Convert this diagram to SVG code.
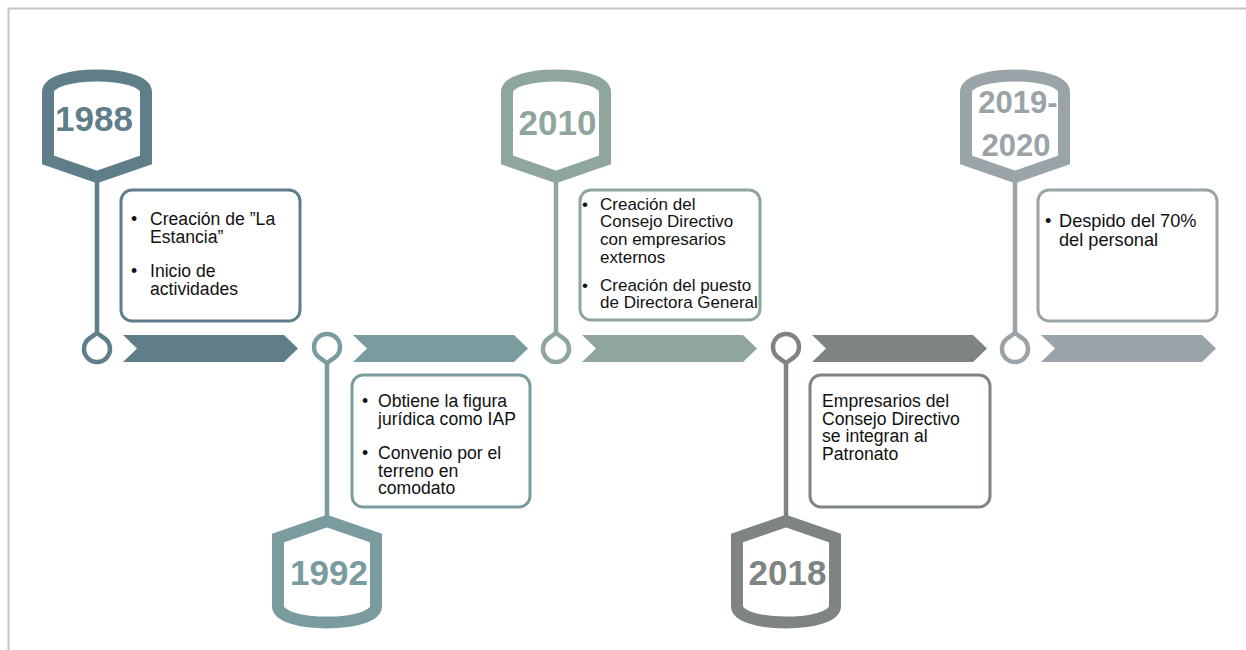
<svg xmlns="http://www.w3.org/2000/svg" width="1246" height="650" viewBox="0 0 1246 650">
  <style>
    .frame { stroke: #c4c4c4; stroke-width: 2; fill: none; }
    .badge { fill: #ffffff; stroke-width: 12; stroke-linejoin: miter; }
    .stem { stroke-width: 4.5; fill: none; }
    .pin { fill: #ffffff; stroke-width: 4.5; stroke-linejoin: round; }
    .box { fill: #ffffff; stroke-width: 3; }
    .year { font-family: "Liberation Sans", Arial, sans-serif; font-weight: bold; text-anchor: middle; }
    .txt { font-family: "Liberation Sans", Arial, sans-serif; font-size: 17.6px; fill: #111111; }
    .tight { font-size: 17px; }
    .wide { font-size: 18.2px; }
    .c1 { stroke: #5f7e8a; } .f1 { fill: #5f7e8a; }
    .c2 { stroke: #7a9c9e; } .f2 { fill: #7a9c9e; }
    .c3 { stroke: #8fa69d; } .f3 { fill: #8fa69d; }
    .c4 { stroke: #7e8482; } .f4 { fill: #7e8482; }
    .c5 { stroke: #9aa4a8; } .f5 { fill: #9aa4a8; }
  </style>

  <rect width="1246" height="650" fill="#ffffff"/>
  <!-- page frame -->
  <path class="frame" d="M8.5,650 L8.5,8.5 L1246,8.5"/>

  <!-- timeline arrows -->
  <g id="connectors">
    <path class="f1" d="M123,335 L284,335 L298,348.5 L284,362 L123,362 L137,348.5 Z"/>
    <path class="f2" d="M353,335 L514,335 L528,348.5 L514,362 L353,362 L367,348.5 Z"/>
    <path class="f3" d="M582,335 L743,335 L757,348.5 L743,362 L582,362 L596,348.5 Z"/>
    <path class="f4" d="M812,335 L973,335 L987,348.5 L973,362 L812,362 L826,348.5 Z"/>
    <path class="f5" d="M1041,335 L1202,335 L1216,348.5 L1202,362 L1041,362 L1055,348.5 Z"/>
  </g>

  <!-- 1988 -->
  <g id="n1988">
    <line class="stem c1" x1="97" y1="178" x2="97" y2="334"/>
    <path class="badge c1" d="M48,92 C48,70 146,70 146,92 L146,160 L97,177 L48,160 Z"/>
    <text class="year f1" x="94" y="131" font-size="35">1988</text>
    <path class="pin c1" d="M97,333 L104.58,338.44 A13,13 0 1 1 89.42,338.44 Z"/>
    <rect class="box c1" x="121" y="190" width="179" height="131" rx="11"/>
    <text class="txt"><tspan x="131" y="225">•</tspan><tspan x="150" y="225">Creación de ”La</tspan><tspan x="150" y="242.7">Estancia”</tspan><tspan x="131" y="277">•</tspan><tspan x="150" y="277">Inicio de</tspan><tspan x="150" y="294.7">actividades</tspan></text>
  </g>

  <!-- 1992 -->
  <g id="n1992">
    <line class="stem c2" x1="327" y1="362" x2="327" y2="520"/>
    <path class="badge c2" d="M278,606 C278,628 376,628 376,606 L376,538 L327,521 L278,538 Z"/>
    <text class="year f2" x="329" y="585" font-size="35">1992</text>
    <path class="pin c2" d="M327,363 L319.42,357.56 A13,13 0 1 1 334.58,357.56 Z"/>
    <rect class="box c2" x="352" y="375" width="178" height="132" rx="11"/>
    <text class="txt"><tspan x="362" y="407">•</tspan><tspan x="378" y="407">Obtiene la figura</tspan><tspan x="378" y="424.7">jurídica como IAP</tspan><tspan x="362" y="459">•</tspan><tspan x="378" y="459">Convenio por el</tspan><tspan x="378" y="476.7">terreno en</tspan><tspan x="378" y="494.4">comodato</tspan></text>
  </g>

  <!-- 2010 -->
  <g id="n2010">
    <line class="stem c3" x1="556" y1="178" x2="556" y2="334"/>
    <path class="badge c3" d="M507,92 C507,70 605,70 605,92 L605,160 L556,177 L507,160 Z"/>
    <text class="year f3" x="557.5" y="135" font-size="35">2010</text>
    <path class="pin c3" d="M556,333 L563.58,338.44 A13,13 0 1 1 548.42,338.44 Z"/>
    <rect class="box c3" x="580" y="190" width="180" height="130" rx="11"/>
    <text class="txt tight"><tspan x="582" y="209.7">•</tspan><tspan x="600" y="209.7">Creación del</tspan><tspan x="600" y="227.4">Consejo Directivo</tspan><tspan x="600" y="245.1">con empresarios</tspan><tspan x="600" y="262.8">externos</tspan><tspan x="582" y="290.7">•</tspan><tspan x="600" y="290.7">Creación del puesto</tspan><tspan x="600" y="308.4">de Directora General</tspan></text>
  </g>

  <!-- 2018 -->
  <g id="n2018">
    <line class="stem c4" x1="786" y1="362" x2="786" y2="520"/>
    <path class="badge c4" d="M737,606 C737,628 835,628 835,606 L835,538 L786,521 L737,538 Z"/>
    <text class="year f4" x="787.5" y="585" font-size="35">2018</text>
    <path class="pin c4" d="M786,363 L778.42,357.56 A13,13 0 1 1 793.58,357.56 Z"/>
    <rect class="box c4" x="810" y="375" width="180" height="132" rx="11"/>
    <text class="txt"><tspan x="822" y="407">Empresarios del</tspan><tspan x="822" y="424.7">Consejo Directivo</tspan><tspan x="822" y="442.4">se integran al</tspan><tspan x="822" y="460.1">Patronato</tspan></text>
  </g>

  <!-- 2019-2020 -->
  <g id="n2019">
    <line class="stem c5" x1="1015" y1="178" x2="1015" y2="334"/>
    <path class="badge c5" d="M966,92 C966,70 1064,70 1064,92 L1064,160 L1015,177 L966,160 Z"/>
    <text class="year f5" font-size="31"><tspan x="1018" y="113">2019-</tspan><tspan x="1016" y="156">2020</tspan></text>
    <path class="pin c5" d="M1015,333 L1022.58,338.44 A13,13 0 1 1 1007.42,338.44 Z"/>
    <rect class="box c5" x="1038" y="190" width="179" height="131" rx="11"/>
    <text class="txt wide"><tspan x="1045" y="227">•</tspan><tspan x="1059" y="227">Despido del 70%</tspan><tspan x="1059" y="245.5">del personal</tspan></text>
  </g>
</svg>
